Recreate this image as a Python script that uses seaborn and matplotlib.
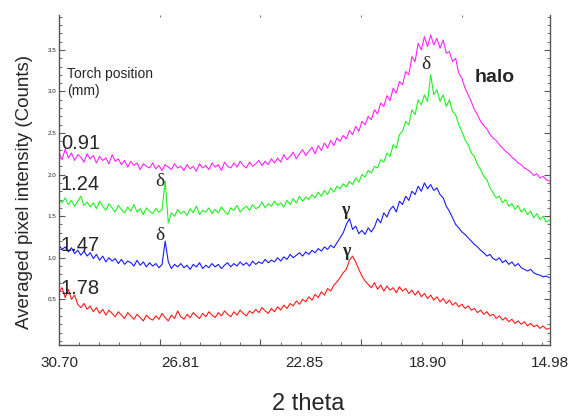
import numpy as np
import pandas as pd
import seaborn as sns
import matplotlib.pyplot as plt
from matplotlib.ticker import MultipleLocator

# 2 theta sampling (descending, plotted on a reversed axis)
two_theta = np.linspace(30.70, 15.00, 158)

# averaged pixel intensity for each torch position (mm)
pos_091 = [2.27, 2.18, 2.31, 2.20, 2.26, 2.17, 2.24, 2.21, 2.15, 2.25,
           2.19, 2.23, 2.14, 2.22, 2.17, 2.20, 2.13, 2.24, 2.16, 2.19,
           2.12, 2.17, 2.09, 2.16, 2.11, 2.14, 2.06, 2.13, 2.10, 2.08,
           2.14, 2.07, 2.11, 2.05, 2.12, 2.09, 2.06, 2.13, 2.08, 2.10,
           2.05, 2.12, 2.07, 2.10, 2.04, 2.13, 2.08, 2.11, 2.06, 2.14,
           2.09, 2.12, 2.05, 2.15, 2.10, 2.08, 2.14, 2.09, 2.16, 2.11,
           2.08, 2.15, 2.10, 2.13, 2.17, 2.11, 2.16, 2.12, 2.19, 2.14,
           2.20, 2.15, 2.24, 2.18, 2.22, 2.27, 2.19, 2.25, 2.30, 2.23,
           2.28, 2.33, 2.25, 2.35, 2.29, 2.38, 2.32, 2.41, 2.35, 2.44,
           2.40, 2.47, 2.43, 2.53, 2.48, 2.58, 2.52, 2.64, 2.60, 2.70,
           2.66, 2.78, 2.73, 2.86, 2.82, 2.95, 2.89, 3.04, 2.98, 3.12,
           3.08, 3.24, 3.20, 3.42, 3.36, 3.58, 3.50, 3.66, 3.54, 3.68,
           3.56, 3.64, 3.52, 3.62, 3.46, 3.48, 3.36, 3.40, 3.22, 3.16,
           3.04, 2.96, 2.88, 2.78, 2.72, 2.64, 2.59, 2.55, 2.48, 2.44,
           2.41, 2.36, 2.32, 2.28, 2.25, 2.21, 2.18, 2.14, 2.12, 2.08,
           2.06, 2.03, 1.99, 2.01, 1.96, 1.98, 1.94, 1.92]

pos_124 = [1.70, 1.66, 1.72, 1.64, 1.69, 1.62, 1.68, 1.74, 1.63, 1.67,
           1.61, 1.66, 1.59, 1.68, 1.62, 1.57, 1.65, 1.60, 1.55, 1.63,
           1.58, 1.54, 1.61, 1.56, 1.64, 1.55, 1.59, 1.52, 1.60, 1.56,
           1.53, 1.59, 1.55, 1.58, 1.92, 1.42, 1.54, 1.50, 1.58, 1.53,
           1.56, 1.51, 1.59, 1.54, 1.62, 1.52, 1.57, 1.55, 1.60, 1.53,
           1.58, 1.54, 1.61, 1.56, 1.52, 1.60, 1.57, 1.63, 1.55, 1.59,
           1.62, 1.57, 1.64, 1.59, 1.61, 1.67, 1.60, 1.65, 1.62, 1.68,
           1.63, 1.66, 1.61, 1.69, 1.64, 1.71, 1.66, 1.74, 1.68, 1.73,
           1.70, 1.76, 1.72, 1.79, 1.74, 1.81, 1.76, 1.84, 1.79, 1.86,
           1.83, 1.89, 1.85, 1.92, 1.88, 1.96, 1.91, 2.00, 1.97, 2.05,
           2.02, 2.10, 2.08, 2.18, 2.15, 2.26, 2.22, 2.36, 2.32, 2.48,
           2.52, 2.64, 2.60, 2.78, 2.72, 2.90, 2.84, 2.96, 2.88, 3.20,
           2.96, 3.02, 2.88, 2.96, 2.82, 2.90, 2.76, 2.72, 2.60, 2.52,
           2.42, 2.36, 2.26, 2.22, 2.12, 2.06, 1.98, 1.94, 1.84, 1.78,
           1.72, 1.74, 1.66, 1.70, 1.62, 1.65, 1.58, 1.63, 1.55, 1.59,
           1.52, 1.56, 1.48, 1.53, 1.46, 1.50, 1.43, 1.45]

pos_147 = [1.15, 1.10, 1.13, 1.07, 1.12, 1.05, 1.09, 1.03, 1.08, 1.02,
           1.06, 0.99, 1.04, 0.97, 1.02, 0.95, 1.00, 0.96, 0.99, 0.93,
           0.98, 0.92, 0.96, 0.94, 0.90, 0.97, 0.91, 0.95, 0.89, 0.94,
           0.90, 0.93, 0.88, 0.92, 1.20, 0.95, 0.87, 0.92, 0.89, 0.93,
           0.88, 0.91, 0.86, 0.92, 0.89, 0.94, 0.87, 0.91, 0.88, 0.93,
           0.89, 0.92, 0.87, 0.91, 0.94, 0.89, 0.93, 0.90, 0.95, 0.91,
           0.94, 0.90, 0.96, 0.92, 0.95, 0.93, 0.98, 0.94, 0.97, 0.95,
           1.00, 0.96, 1.01, 0.98, 1.04, 1.00, 1.03, 1.06, 1.02, 1.07,
           1.04, 1.09, 1.06, 1.11, 1.08, 1.13, 1.10, 1.15, 1.12, 1.18,
           1.24, 1.30, 1.40, 1.47, 1.34, 1.38, 1.29, 1.33, 1.28, 1.36,
           1.31, 1.37, 1.47, 1.42, 1.54, 1.49, 1.58, 1.62, 1.55, 1.68,
           1.64, 1.74, 1.69, 1.80, 1.76, 1.86, 1.80, 1.90, 1.83, 1.88,
           1.81, 1.84, 1.76, 1.72, 1.62, 1.56, 1.48, 1.40, 1.36, 1.31,
           1.28, 1.24, 1.20, 1.16, 1.13, 1.09, 1.06, 1.02, 1.04, 0.99,
           0.97, 1.00, 0.94, 0.97, 0.92, 0.95, 0.90, 0.93, 0.88, 0.86,
           0.84, 0.86, 0.82, 0.80, 0.79, 0.77, 0.78, 0.76]

pos_178 = [0.58, 0.64, 0.52, 0.62, 0.50, 0.55, 0.44, 0.40, 0.45, 0.38,
           0.42, 0.35, 0.40, 0.33, 0.38, 0.31, 0.37, 0.33, 0.29, 0.35,
           0.31, 0.27, 0.34, 0.30, 0.26, 0.32, 0.28, 0.24, 0.31, 0.27,
           0.25, 0.30, 0.26, 0.33, 0.28, 0.24, 0.31, 0.27, 0.36, 0.29,
           0.26, 0.32, 0.28, 0.34, 0.30, 0.27, 0.33, 0.29, 0.35, 0.31,
           0.28, 0.34, 0.30, 0.36, 0.32, 0.29, 0.35, 0.31, 0.37, 0.33,
           0.30, 0.36, 0.33, 0.38, 0.34, 0.40, 0.36, 0.33, 0.39, 0.35,
           0.41, 0.37, 0.43, 0.39, 0.45, 0.42, 0.48, 0.44, 0.50, 0.47,
           0.53, 0.49, 0.56, 0.52, 0.59, 0.55, 0.63, 0.60, 0.67, 0.71,
           0.76, 0.82, 0.86, 0.97, 1.02, 0.95, 0.86, 0.78, 0.72, 0.68,
           0.64, 0.70, 0.62, 0.67, 0.60, 0.66, 0.61, 0.64, 0.58, 0.65,
           0.60, 0.63, 0.57, 0.61, 0.55, 0.60, 0.53, 0.57, 0.51, 0.55,
           0.49, 0.53, 0.47, 0.51, 0.45, 0.49, 0.43, 0.46, 0.41, 0.44,
           0.39, 0.42, 0.37, 0.39, 0.34, 0.37, 0.32, 0.35, 0.30, 0.32,
           0.27, 0.30, 0.25, 0.28, 0.23, 0.26, 0.21, 0.24, 0.20, 0.23,
           0.18, 0.21, 0.17, 0.19, 0.15, 0.18, 0.14, 0.15]

series_names = ["1.78", "1.47", "1.24", "0.91"]
series_colors = ["#ff1a1a", "#1a1aff", "#22ee22", "#ff22ff"]

xtick_vals = [30.70, 26.81, 22.85, 18.90, 14.98]
xtick_labels = ["30.70", "26.81", "22.85", "18.90", "14.98"]
ytick_vals = [0.5, 1.0, 1.5, 2.0, 2.5, 3.0, 3.5]

df = pd.DataFrame({"two_theta": two_theta, "1.78": pos_178, "1.47": pos_147,
                   "1.24": pos_124, "0.91": pos_091})

sns.set_style("ticks")
plt.rcParams["font.family"] = ["Liberation Sans", "DejaVu Sans"]

fig = plt.figure(figsize=(5.71, 4.18), dpi=100)
ax = fig.add_axes([0.1033, 0.1746, 0.8599, 0.7895])

for name, col in zip(series_names, series_colors):
    sns.lineplot(data=df, x="two_theta", y=name, color=col, lw=0.8, ax=ax, legend=False)

ax.set_xlim(30.70, 14.98)
ax.set_ylim(-0.05, 3.92)

# tick marks on a regular grid, labels at the 2 theta values
step = 3.224
ax.set_xticks([30.70 - k * step for k in range(1, 5)])
ax.set_xticks([30.70 - j * step / 5 for j in range(1, 25) if j % 5], minor=True)
ax.tick_params(axis="x", which="major", direction="in", length=4, labelbottom=False, color="#555555")
ax.tick_params(axis="x", which="minor", direction="in", length=2.5, color="#555555")

sec = ax.secondary_xaxis("bottom")
sec.set_xticks(xtick_vals, labels=xtick_labels)
sec.tick_params(length=0, pad=8, labelsize=11)
sec.spines["bottom"].set_visible(False)

top = ax.secondary_xaxis("top")
top.set_xticks([30.70 - k * step for k in range(1, 5)], labels=[])
top.tick_params(direction="in", length=1.5, color="#777777")
top.spines["top"].set_visible(False)

ax.set_yticks(ytick_vals)
ax.yaxis.set_minor_locator(MultipleLocator(0.1))
ax.tick_params(axis="y", which="major", direction="in", length=4, right=True,
               labelsize=4.5, pad=2, color="#555555")
ax.tick_params(axis="y", which="minor", direction="in", length=2, right=True, color="#555555")

for s in ["left", "right", "bottom"]:
    ax.spines[s].set_color("#555555")
    ax.spines[s].set_linewidth(1.0)
ax.spines["top"].set_visible(False)

ax.set_xlabel("2 theta", fontsize=17)
ax.xaxis.set_label_coords(0.507, -0.145)
ax.set_ylabel("Averaged pixel intensity (Counts)", fontsize=13.5)
ax.yaxis.set_label_coords(-0.053, 0.464)

ax.text(30.43, 3.30, "Torch position\n(mm)", fontsize=10, va="top", ha="left", linespacing=1.35)
label_y = [0.56, 1.076, 1.82, 2.31]
for name, yy in zip(series_names, label_y):
    ax.text(30.64, yy, name, fontsize=14.5, va="baseline", ha="left")

ax.text(16.74, 3.164, "halo", fontsize=14, fontweight="bold", ha="center", va="center")

greek = ["Liberation Serif", "DejaVu Serif"]
ax.text(27.47, 1.916, "δ", fontsize=14, family=greek, ha="center", va="center")
ax.text(27.47, 1.268, "δ", fontsize=14, family=greek, ha="center", va="center")
ax.text(18.95, 3.32, "δ", fontsize=14, family=greek, ha="center", va="center")
ax.text(21.54, 1.568, "γ", fontsize=13, family=greek, fontweight="bold", ha="center", va="center")
ax.text(21.51, 1.076, "γ", fontsize=13, family=greek, fontweight="bold", ha="center", va="center")

fig.savefig("out.png", dpi=100)
